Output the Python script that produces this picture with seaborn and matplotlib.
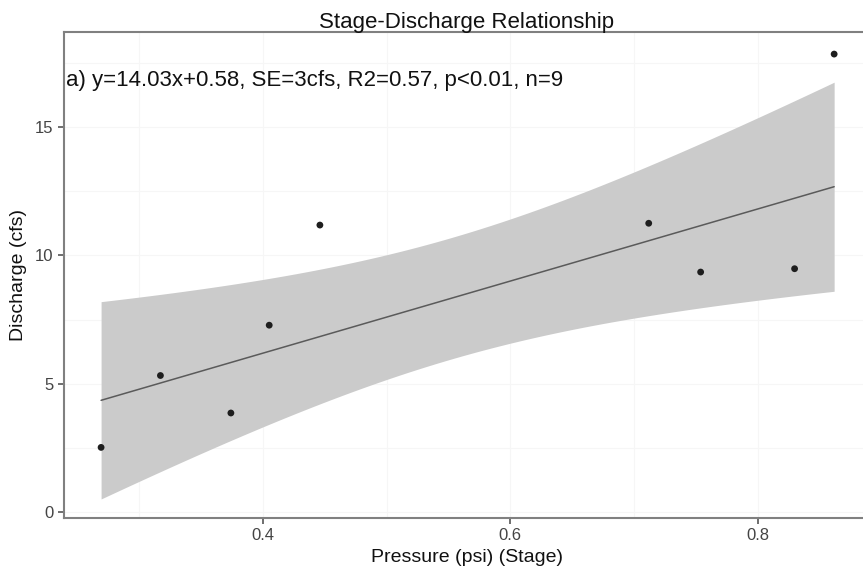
import numpy as np
import pandas as pd
import matplotlib
matplotlib.use("Agg")
import matplotlib.pyplot as plt
import seaborn as sns

# values
pressure = [0.269, 0.317, 0.374, 0.405, 0.446, 0.712, 0.754, 0.830, 0.862]
discharge = [2.52, 5.32, 3.86, 7.28, 11.18, 11.25, 9.35, 9.48, 17.84]
x_ticks = [0.4, 0.6, 0.8]
y_ticks = [0, 5, 10, 15]
title = "Stage-Discharge Relationship"
note = "a) y=14.03x+0.58, SE=3cfs, R2=0.57, p<0.01, n=9"

# fit as stated in the annotation
fit_slope = 14.03
fit_intercept = 0.58
fit_se = 3.0
t_val = 2.3646  # t(0.975, df=7)

df = pd.DataFrame({"Pressure": pressure, "Discharge": discharge})

sns.set_style("white")
plt.rcParams["font.family"] = ["Liberation Sans", "DejaVu Sans"]

# fitted line and 95% confidence band
x = np.array(pressure)
n = len(x)
xg = np.linspace(x.min(), x.max(), 80)
yg = fit_slope * xg + fit_intercept
se = fit_se * np.sqrt(1 / n + (xg - x.mean()) ** 2 / np.sum((x - x.mean()) ** 2))
fit = pd.DataFrame({"Pressure": xg, "Fit": yg})

fig = plt.figure(figsize=(8.63, 5.76), dpi=100)
ax = fig.add_axes([64 / 863, 1 - 518 / 576, (870 - 64) / 863, (518 - 32) / 576])

# faint theme_bw style grid
for v in [0.3, 0.4, 0.5, 0.6, 0.7, 0.8]:
    ax.axvline(v, color="#f6f6f6", lw=0.8, zorder=0)
for v in [0, 2.5, 5, 7.5, 10, 12.5, 15, 17.5]:
    ax.axhline(v, color="#f6f6f6", lw=0.8, zorder=0)

ax.fill_between(xg, yg - t_val * se, yg + t_val * se, color="#cbcbcb", lw=0, zorder=1)
sns.lineplot(data=fit, x="Pressure", y="Fit", ax=ax, color="#5a5a5a", lw=1.1, zorder=2)
sns.scatterplot(data=df, x="Pressure", y="Discharge", ax=ax, color="#1e1e1e",
                s=24, edgecolor="none", zorder=3)

ax.set_xlim(0.239, 0.891)
ax.set_ylim(-0.23, 18.70)
ax.set_xticks(x_ticks)
ax.set_xticklabels([str(t) for t in x_ticks])
ax.set_yticks(y_ticks)

ax.set_title(title, fontsize=16, color="#111111", pad=3)
ax.set_xlabel("Pressure (psi) (Stage)", fontsize=14, color="#111111", labelpad=4)
ax.set_ylabel("Discharge (cfs)", fontsize=14, color="#111111", labelpad=6)
ax.tick_params(axis="both", labelsize=12, colors="#555555", length=4, width=1.2,
               direction="out", bottom=True, left=True)
ax.tick_params(axis="both", labelcolor="#444444")

for side in ["left", "bottom", "top"]:
    ax.spines[side].set_visible(True)
    ax.spines[side].set_color("#808080")
    ax.spines[side].set_linewidth(1.5)
ax.spines["right"].set_visible(False)

ax.text(0.002, 0.9, note, transform=ax.transAxes, ha="left", va="center",
        fontsize=16, color="#111111")

fig.savefig("out.png", dpi=100)
